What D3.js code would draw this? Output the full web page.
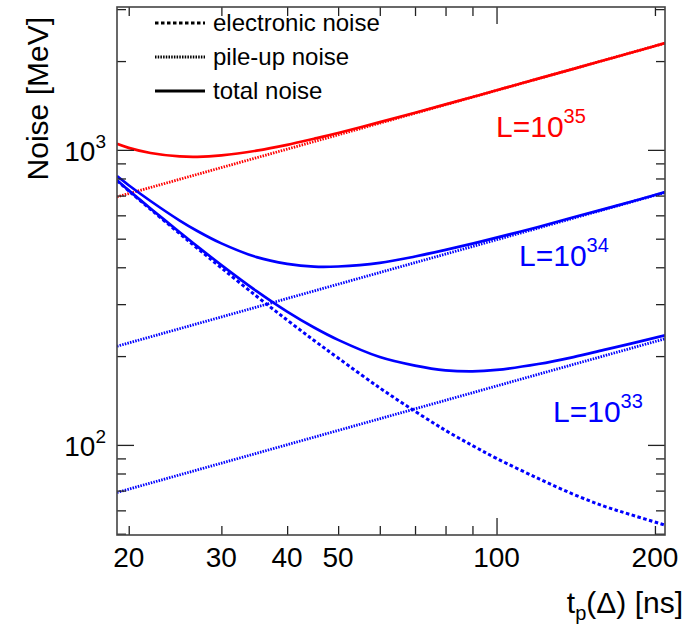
<!DOCTYPE html>
<html>
<head>
<meta charset="utf-8">
<script src="https://cdn.jsdelivr.net/npm/d3@7"></script>
<style>
  body { margin:0; background:#fff; }
  svg text { font-family: "Liberation Sans", Arial, sans-serif; }
</style>
</head>
<body>
<div id="chart"></div>
<script>
// shaping time tp [ns]
var tp = [19, 20, 22, 25, 27, 30, 35, 40, 45, 50, 60, 70, 80, 90, 100, 120, 140, 160, 180, 209];
// electronic noise [MeV] (same for every luminosity)
var electronic = [786, 726, 629, 520, 464, 398, 319, 265, 226, 197, 156, 130, 112, 99.5, 90, 77, 68, 62, 58, 53.5];
// total noise [MeV]
var total35 = [1048, 1016, 976, 950, 947, 958, 994, 1040, 1091, 1141, 1242, 1336, 1426, 1511, 1592, 1744, 1882, 2012, 2134, 2300];
var total34 = [815, 759, 671, 576, 531, 482, 433, 411, 402, 402.5, 414, 435, 458, 481, 504, 548, 591, 630, 667, 719];
var total33 = [789, 729, 633, 526, 471, 407, 332, 283, 250, 227, 198.5, 185.7, 179, 177.5, 179.5, 188, 198.5, 209.9, 220.4, 235.3];
// pile-up noise [MeV] (straight in log-log, end points)
var pileT = [19, 209];
var pile35 = [693, 2300];
var pile34 = [216, 717];
var pile33 = [69, 229];

var xMinor = [20, 30, 40, 50, 60, 70, 80, 90, 200];
var xMajor = [100];
var xLabels = [20, 30, 40, 50, 100, 200];
var yMinor = [50, 60, 70, 80, 90, 200, 300, 400, 500, 600, 700, 800, 900, 2000, 3000];
var yMajor = [100, 1000];
var yLabels = [{v:100, e:"2"}, {v:1000, e:"3"}];

(function(){
var W = 694, H = 627;
var pl = 117, pr = 665, pt = 7, pb = 535;

var svg = d3.select("#chart").append("svg").attr("width", W).attr("height", H);

var x = d3.scaleLog().domain([19, 209]).range([pl, pr]);
var y = d3.scaleLog().domain([49.5, 3050]).range([pb, pt]);

svg.append("clipPath").attr("id", "clip")
    .append("rect").attr("x", pl).attr("y", pt).attr("width", pr-pl).attr("height", pb-pt);

var plot = svg.append("g").attr("clip-path", "url(#clip)");

var line = d3.line()
    .x(function(d){ return x(d[0]); })
    .y(function(d){ return y(d[1]); })
    .curve(d3.curveCatmullRom.alpha(0.5));

var zipT = function(ts, vs){ return ts.map(function(t, i){ return [t, vs[i]]; }); };

var RED = "#ff0000", BLUE = "#0000ff";
var dashE = "3.5,2.5", dashP = "1.5,1.2";

var series = [
    {pts: zipT(pileT, pile33), color: BLUE, dash: dashP, w: 2.8},
    {pts: zipT(pileT, pile34), color: BLUE, dash: dashP, w: 2.8},
    {pts: zipT(pileT, pile35), color: RED, dash: dashP, w: 2.8},
    {pts: zipT(tp, electronic), color: BLUE, dash: dashE, w: 3},
    {pts: zipT(tp, total33), color: BLUE, dash: null, w: 2.7},
    {pts: zipT(tp, total34), color: BLUE, dash: null, w: 2.7},
    {pts: zipT(tp, total35), color: RED, dash: null, w: 2.7}
];

series.forEach(function(s){
    plot.append("path")
        .attr("d", line(s.pts))
        .attr("fill", "none")
        .attr("stroke", s.color)
        .attr("stroke-width", s.w)
        .attr("stroke-dasharray", s.dash);
});

// axes: ticks pointing inward, on all four sides
var addAxis = function(gen, vals, size, tx, ty){
    var g = svg.append("g").attr("transform", "translate(" + tx + "," + ty + ")")
        .call(gen.tickValues(vals).tickSize(size).tickFormat(""));
    g.select(".domain").remove();
    g.selectAll("line").attr("stroke", "#222").attr("stroke-width", 1.3);
};
addAxis(d3.axisBottom(x), xMinor, -9, 0, pb);
addAxis(d3.axisBottom(x), xMajor, -17, 0, pb);
addAxis(d3.axisTop(x), xMinor, -9, 0, pt);
addAxis(d3.axisTop(x), xMajor, -17, 0, pt);
addAxis(d3.axisLeft(y), yMinor, -9, pl, 0);
addAxis(d3.axisLeft(y), yMajor, -17, pl, 0);
addAxis(d3.axisRight(y), yMinor, -9, pr, 0);
addAxis(d3.axisRight(y), yMajor, -17, pr, 0);

svg.append("rect")
    .attr("x", pl).attr("y", pt).attr("width", pr-pl).attr("height", pb-pt)
    .attr("fill", "none").attr("stroke", "#444").attr("stroke-width", 1.6);

// tick labels
svg.selectAll(".xl").data(xLabels).enter().append("text")
    .attr("x", function(d){ return x(d); })
    .attr("y", 567)
    .attr("text-anchor", "middle")
    .attr("font-size", 28)
    .text(function(d){ return d; });

var yl = svg.selectAll(".yl").data(yLabels).enter().append("text")
    .attr("x", 106)
    .attr("y", function(d){ return y(d.v) + 11; })
    .attr("text-anchor", "end")
    .attr("font-size", 28);
yl.append("tspan").text("10");
yl.append("tspan").attr("dy", -13).attr("font-size", 19).text(function(d){ return d.e; });

// axis titles
svg.append("text")
    .attr("transform", "translate(48,17) rotate(-90)")
    .attr("text-anchor", "end")
    .attr("font-size", 30)
    .text("Noise [MeV]");

var xt = svg.append("text")
    .attr("x", 683).attr("y", 613)
    .attr("text-anchor", "end")
    .attr("font-size", 30);
xt.append("tspan").text("t");
xt.append("tspan").attr("dy", 7).attr("font-size", 20).text("p");
xt.append("tspan").attr("dy", -7).text("(\u0394) [ns]");

// curve labels
var lumi = [
    {x: 496, y: 137, e: "35", c: RED},
    {x: 519, y: 266, e: "34", c: BLUE},
    {x: 553, y: 422, e: "33", c: BLUE}
];
lumi.forEach(function(d){
    var t = svg.append("text").attr("x", d.x).attr("y", d.y).attr("fill", d.c).attr("font-size", 30);
    t.append("tspan").text("L=10");
    t.append("tspan").attr("dy", -14).attr("font-size", 20).text(d.e);
});

// legend
var legend = [
    {name: "electronic noise", dash: dashE, w: 3, y: 23},
    {name: "pile-up noise", dash: dashP, w: 2.8, y: 57},
    {name: "total noise", dash: null, w: 3, y: 91}
];
legend.forEach(function(d){
    svg.append("line")
        .attr("x1", 155).attr("x2", 205).attr("y1", d.y).attr("y2", d.y)
        .attr("stroke", "#000").attr("stroke-width", d.w)
        .attr("stroke-dasharray", d.dash);
    svg.append("text")
        .attr("x", 213).attr("y", d.y + 8)
        .attr("font-size", 24)
        .text(d.name);
});
})();
</script>
</body>
</html>
